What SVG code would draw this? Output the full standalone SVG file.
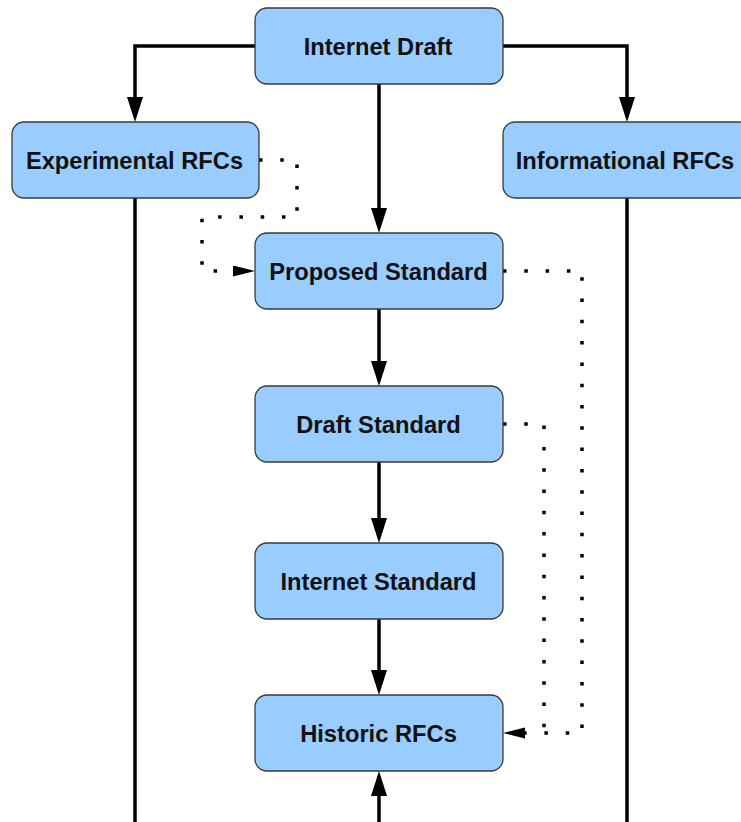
<svg xmlns="http://www.w3.org/2000/svg" width="741" height="822" viewBox="0 0 741 822">
  <style>
    .box { fill: #99CCFF; stroke: #3a3a3a; stroke-width: 1.3; }
    .lbl { font-family: "Liberation Sans", Arial, sans-serif; font-weight: bold; font-size: 23.7px; fill: #111; text-anchor: middle; }
    .solid { fill: none; stroke: #000; stroke-width: 3.5; }
    .dot { fill: none; stroke: #000; stroke-width: 3.5; stroke-dasharray: 3.5 17.8; }
  </style>
  <defs>
    <marker id="arr" markerUnits="userSpaceOnUse" markerWidth="26" markerHeight="17" refX="15" refY="8" orient="auto">
      <path d="M0,0 L25,8 L0,16 z" fill="#000"/>
    </marker>
    <marker id="arrs" markerUnits="userSpaceOnUse" markerWidth="23" markerHeight="12" refX="13" refY="5.5" orient="auto">
      <path d="M0,0 L22,5.5 L0,11 z" fill="#000"/>
    </marker>
  </defs>
  <rect width="741" height="822" fill="#fff"/>

  <g id="connectors">
    <path class="solid" d="M255,46 H135 V112" marker-end="url(#arr)"/>
    <path class="solid" d="M503,46 H627 V112" marker-end="url(#arr)"/>
    <path class="solid" d="M379,84 V223" marker-end="url(#arr)"/>
    <path class="solid" d="M379,309 V376" marker-end="url(#arr)"/>
    <path class="solid" d="M379,462 V533" marker-end="url(#arr)"/>
    <path class="solid" d="M379,619 V685" marker-end="url(#arr)"/>
    <path class="solid" d="M379,822 V781" marker-end="url(#arr)"/>
    <path class="solid" d="M135,198 V822"/>
    <path class="solid" d="M627,198 V822"/>
    <path class="dot" d="M259,160 H297 V217 H202 V271 H246" marker-end="url(#arrs)"/>
    <path class="dot" d="M503,271 H582 V733 H512" marker-end="url(#arrs)"/>
    <path class="dot" d="M503,424 H544 V733"/>
  </g>

  <g id="internet-draft">
    <rect class="box" x="255" y="8" width="248" height="76" rx="12"/>
    <text class="lbl" x="378" y="54.5">Internet Draft</text>
  </g>
  <g id="experimental-rfcs">
    <rect class="box" x="12" y="122" width="247" height="76" rx="12"/>
    <text class="lbl" x="134.5" y="168.5">Experimental RFCs</text>
  </g>
  <g id="informational-rfcs">
    <rect class="box" x="503" y="122" width="248" height="76" rx="12"/>
    <text class="lbl" x="625" y="168.5">Informational RFCs</text>
  </g>
  <g id="proposed-standard">
    <rect class="box" x="255" y="233" width="248" height="76" rx="12"/>
    <text class="lbl" x="378.5" y="279.5">Proposed Standard</text>
  </g>
  <g id="draft-standard">
    <rect class="box" x="255" y="386" width="248" height="76" rx="12"/>
    <text class="lbl" x="378.5" y="432.5">Draft Standard</text>
  </g>
  <g id="internet-standard">
    <rect class="box" x="255" y="543" width="248" height="76" rx="12"/>
    <text class="lbl" x="378.5" y="589.5">Internet Standard</text>
  </g>
  <g id="historic-rfcs">
    <rect class="box" x="255" y="695" width="248" height="76" rx="12"/>
    <text class="lbl" x="378.5" y="741.5">Historic RFCs</text>
  </g>
</svg>
